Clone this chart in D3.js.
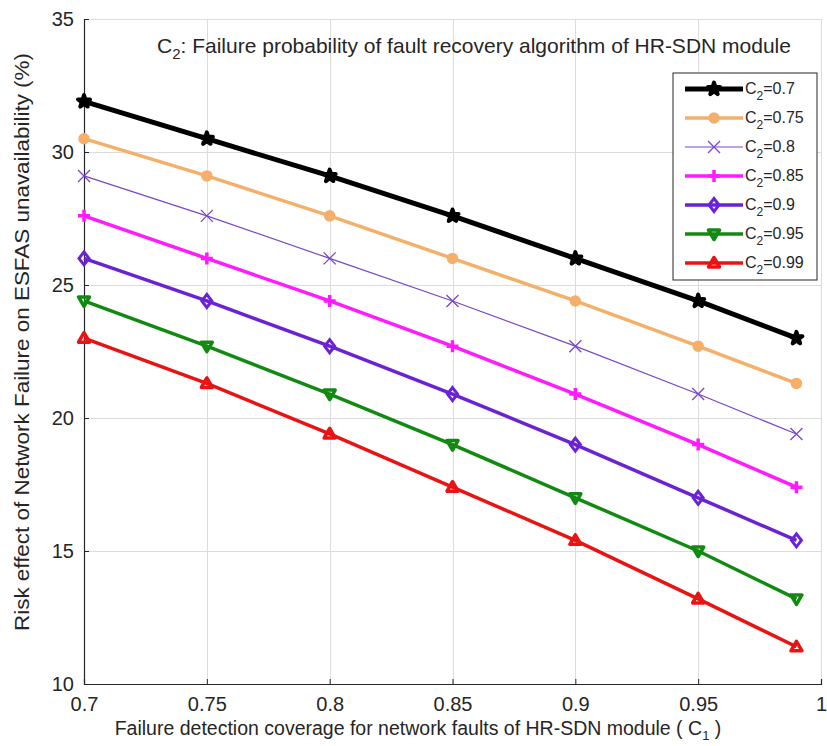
<!DOCTYPE html>
<html>
<head>
    <meta charset="utf-8">
    <title>ESFAS risk effect</title>
    <script type="text/javascript" src="https://cdn.jsdelivr.net/npm/d3@7"></script>
    <style>
        body { margin: 0; background: #fff; }
        text { font-family: "Liberation Sans", Arial, sans-serif; fill: #262626; }
    </style>
</head>
<body>
<script type="text/javascript">
    // C1 values on the x axis
    var c1 = [0.7, 0.75, 0.8, 0.85, 0.9, 0.95, 0.99];
    // C2 series labels
    var c2Labels = ["0.7", "0.75", "0.8", "0.85", "0.9", "0.95", "0.99"];
    // risk effect (%), one array per C2
    var s070 = [31.9, 30.5, 29.1, 27.6, 26.0, 24.4, 23.0];
    var s075 = [30.5, 29.1, 27.6, 26.0, 24.4, 22.7, 21.3];
    var s080 = [29.1, 27.6, 26.0, 24.4, 22.7, 20.9, 19.4];
    var s085 = [27.6, 26.0, 24.4, 22.7, 20.9, 19.0, 17.4];
    var s090 = [26.0, 24.4, 22.7, 20.9, 19.0, 17.0, 15.4];
    var s095 = [24.4, 22.7, 20.9, 19.0, 17.0, 15.0, 13.2];
    var s099 = [23.0, 21.3, 19.4, 17.4, 15.4, 13.2, 11.4];
    var xTicks = [0.7, 0.75, 0.8, 0.85, 0.9, 0.95, 1];
    var yTicks = [10, 15, 20, 25, 30, 35];

    var series = [
        {label: c2Labels[0], values: s070, color: "#000000", width: 5, marker: "star"},
        {label: c2Labels[1], values: s075, color: "#f4b06a", width: 3.5, marker: "circle"},
        {label: c2Labels[2], values: s080, color: "#7a46c8", width: 1.2, marker: "x"},
        {label: c2Labels[3], values: s085, color: "#ff1aff", width: 3.5, marker: "plus"},
        {label: c2Labels[4], values: s090, color: "#6a22d4", width: 3.5, marker: "diamond"},
        {label: c2Labels[5], values: s095, color: "#128a12", width: 3.5, marker: "down"},
        {label: c2Labels[6], values: s099, color: "#e81414", width: 3.5, marker: "up"}
    ];

    var width = 827, height = 746,
        margin = {top: 19, right: 6, bottom: 62, left: 84};

    var svg = d3.select("body").append("svg")
        .attr("width", width)
        .attr("height", height);

    var x = d3.scaleLinear().domain([0.7, 1]).range([margin.left, width - margin.right]);
    var y = d3.scaleLinear().domain([10, 35]).range([height - margin.bottom, margin.top]);

    // grid
    var grid = svg.append("g").attr("stroke", "#dcdcdc").attr("stroke-width", 1);
    grid.selectAll("line.gx").data(xTicks).enter().append("line")
        .attr("x1", function (d) { return Math.round(x(d)) + 0.5; })
        .attr("x2", function (d) { return Math.round(x(d)) + 0.5; })
        .attr("y1", y(35)).attr("y2", y(10));
    grid.selectAll("line.gy").data(yTicks).enter().append("line")
        .attr("y1", function (d) { return Math.round(y(d)) + 0.5; })
        .attr("y2", function (d) { return Math.round(y(d)) + 0.5; })
        .attr("x1", x(0.7)).attr("x2", x(1));

    // axes, ticks pointing inward
    var xAxis = d3.axisBottom(x).tickValues(xTicks).tickSize(-5).tickPadding(13)
        .tickFormat(function (d) { return d === 1 ? "1" : d3.format("")(d); });
    var yAxis = d3.axisLeft(y).tickValues(yTicks).tickSize(-5).tickPadding(10);

    var gx = svg.append("g").attr("transform", "translate(0," + y(10) + ")").call(xAxis);
    var gy = svg.append("g").attr("transform", "translate(" + x(0.7) + ",0)").call(yAxis);
    [gx, gy].forEach(function (g) {
        g.select(".domain").attr("stroke", "#262626").attr("stroke-width", 1.2);
        g.selectAll(".tick line").attr("stroke", "#262626");
        g.selectAll(".tick text").attr("font-size", 20).attr("fill", "#262626")
            .style("font-family", "'Liberation Sans', Arial, sans-serif");
    });
    gx.selectAll(".tick text").attr("dy", "0.71em");

    // line + markers
    var line = d3.line()
        .x(function (d, i) { return x(c1[i]); })
        .y(function (d) { return y(d); });

    function drawMarker(g, kind, color, cx, cy) {
        if (kind === "star") {
            g.append("path")
                .attr("d", d3.symbol().type(d3.symbolStar).size(45)())
                .attr("transform", "translate(" + cx + "," + cy + ")")
                .attr("fill", color).attr("stroke", color).attr("stroke-width", 4)
                .attr("stroke-linejoin", "round");
        } else if (kind === "circle") {
            g.append("circle").attr("cx", cx).attr("cy", cy).attr("r", 5)
                .attr("fill", color).attr("stroke", color).attr("stroke-width", 1.5);
        } else if (kind === "x") {
            g.append("path")
                .attr("d", "M" + (cx - 6) + "," + (cy - 6) + "L" + (cx + 6) + "," + (cy + 6) +
                    "M" + (cx - 6) + "," + (cy + 6) + "L" + (cx + 6) + "," + (cy - 6))
                .attr("stroke", color).attr("stroke-width", 1.3).attr("fill", "none");
        } else if (kind === "plus") {
            g.append("path")
                .attr("d", "M" + (cx - 6) + "," + cy + "L" + (cx + 6) + "," + cy +
                    "M" + cx + "," + (cy - 6) + "L" + cx + "," + (cy + 6))
                .attr("stroke", color).attr("stroke-width", 3.5).attr("fill", "none");
        } else if (kind === "diamond") {
            g.append("path")
                .attr("d", "M" + cx + "," + (cy - 6.5) + "L" + (cx + 5) + "," + cy + "L" + cx + "," +
                    (cy + 6.5) + "L" + (cx - 5) + "," + cy + "Z")
                .attr("stroke", color).attr("stroke-width", 3).attr("fill", "none");
        } else if (kind === "down") {
            g.append("path")
                .attr("d", "M" + (cx - 5.5) + "," + (cy - 4) + "L" + (cx + 5.5) + "," + (cy - 4) + "L" + cx + "," + (cy + 5.5) + "Z")
                .attr("stroke", color).attr("stroke-width", 3.5).attr("fill", "none").attr("stroke-linejoin", "round");
        } else if (kind === "up") {
            g.append("path")
                .attr("d", "M" + (cx - 5.5) + "," + (cy + 4) + "L" + (cx + 5.5) + "," + (cy + 4) + "L" + cx + "," + (cy - 5.5) + "Z")
                .attr("stroke", color).attr("stroke-width", 3.5).attr("fill", "none").attr("stroke-linejoin", "round");
        }
    }

    var plot = svg.append("g");
    series.slice().reverse().forEach(function (s) {
        var g = plot.append("g");
        g.append("path").datum(s.values)
            .attr("d", line)
            .attr("fill", "none")
            .attr("stroke", s.color)
            .attr("stroke-width", s.width)
            .attr("stroke-linejoin", "round");
        s.values.forEach(function (v, i) {
            drawMarker(g, s.marker, s.color, x(c1[i]), y(v));
        });
    });

    // annotation text
    var note = svg.append("text").attr("x", 157).attr("y", 53).attr("font-size", 21);
    note.append("tspan").text("C");
    note.append("tspan").attr("font-size", 15).attr("dy", 6).text("2");
    note.append("tspan").attr("dy", -6).text(": Failure probability of fault recovery algorithm of HR-SDN module");

    // legend
    var lg = svg.append("g").attr("transform", "translate(673,73)");
    lg.append("rect").attr("width", 144).attr("height", 207)
        .attr("fill", "#fff").attr("stroke", "#262626").attr("stroke-width", 1);
    series.forEach(function (s, i) {
        var yy = 16 + i * 29;
        lg.append("line").attr("x1", 12).attr("x2", 70).attr("y1", yy).attr("y2", yy)
            .attr("stroke", s.color).attr("stroke-width", s.width);
        drawMarker(lg, s.marker, s.color, 41, yy);
        var t = lg.append("text").attr("x", 72).attr("y", yy + 5).attr("font-size", 16);
        t.append("tspan").text("C");
        t.append("tspan").attr("font-size", 12).attr("dy", 6).text("2");
        t.append("tspan").attr("dy", -6).text("=" + s.label);
    });

    // axis labels
    var xl = svg.append("text").attr("x", 418).attr("y", 735).attr("text-anchor", "middle").attr("font-size", 19.5);
    xl.append("tspan").text("Failure detection coverage for network faults of HR-SDN module ( C");
    xl.append("tspan").attr("font-size", 13).attr("dy", 5).text("1");
    xl.append("tspan").attr("dy", -5).text(" )");

    svg.append("text")
        .attr("transform", "translate(29,342) rotate(-90)")
        .attr("text-anchor", "middle").attr("font-size", 20)
        .attr("textLength", 578).attr("lengthAdjust", "spacingAndGlyphs")
        .text("Risk effect of Network Failure on ESFAS unavailability (%)");
</script>
</body>
</html>
